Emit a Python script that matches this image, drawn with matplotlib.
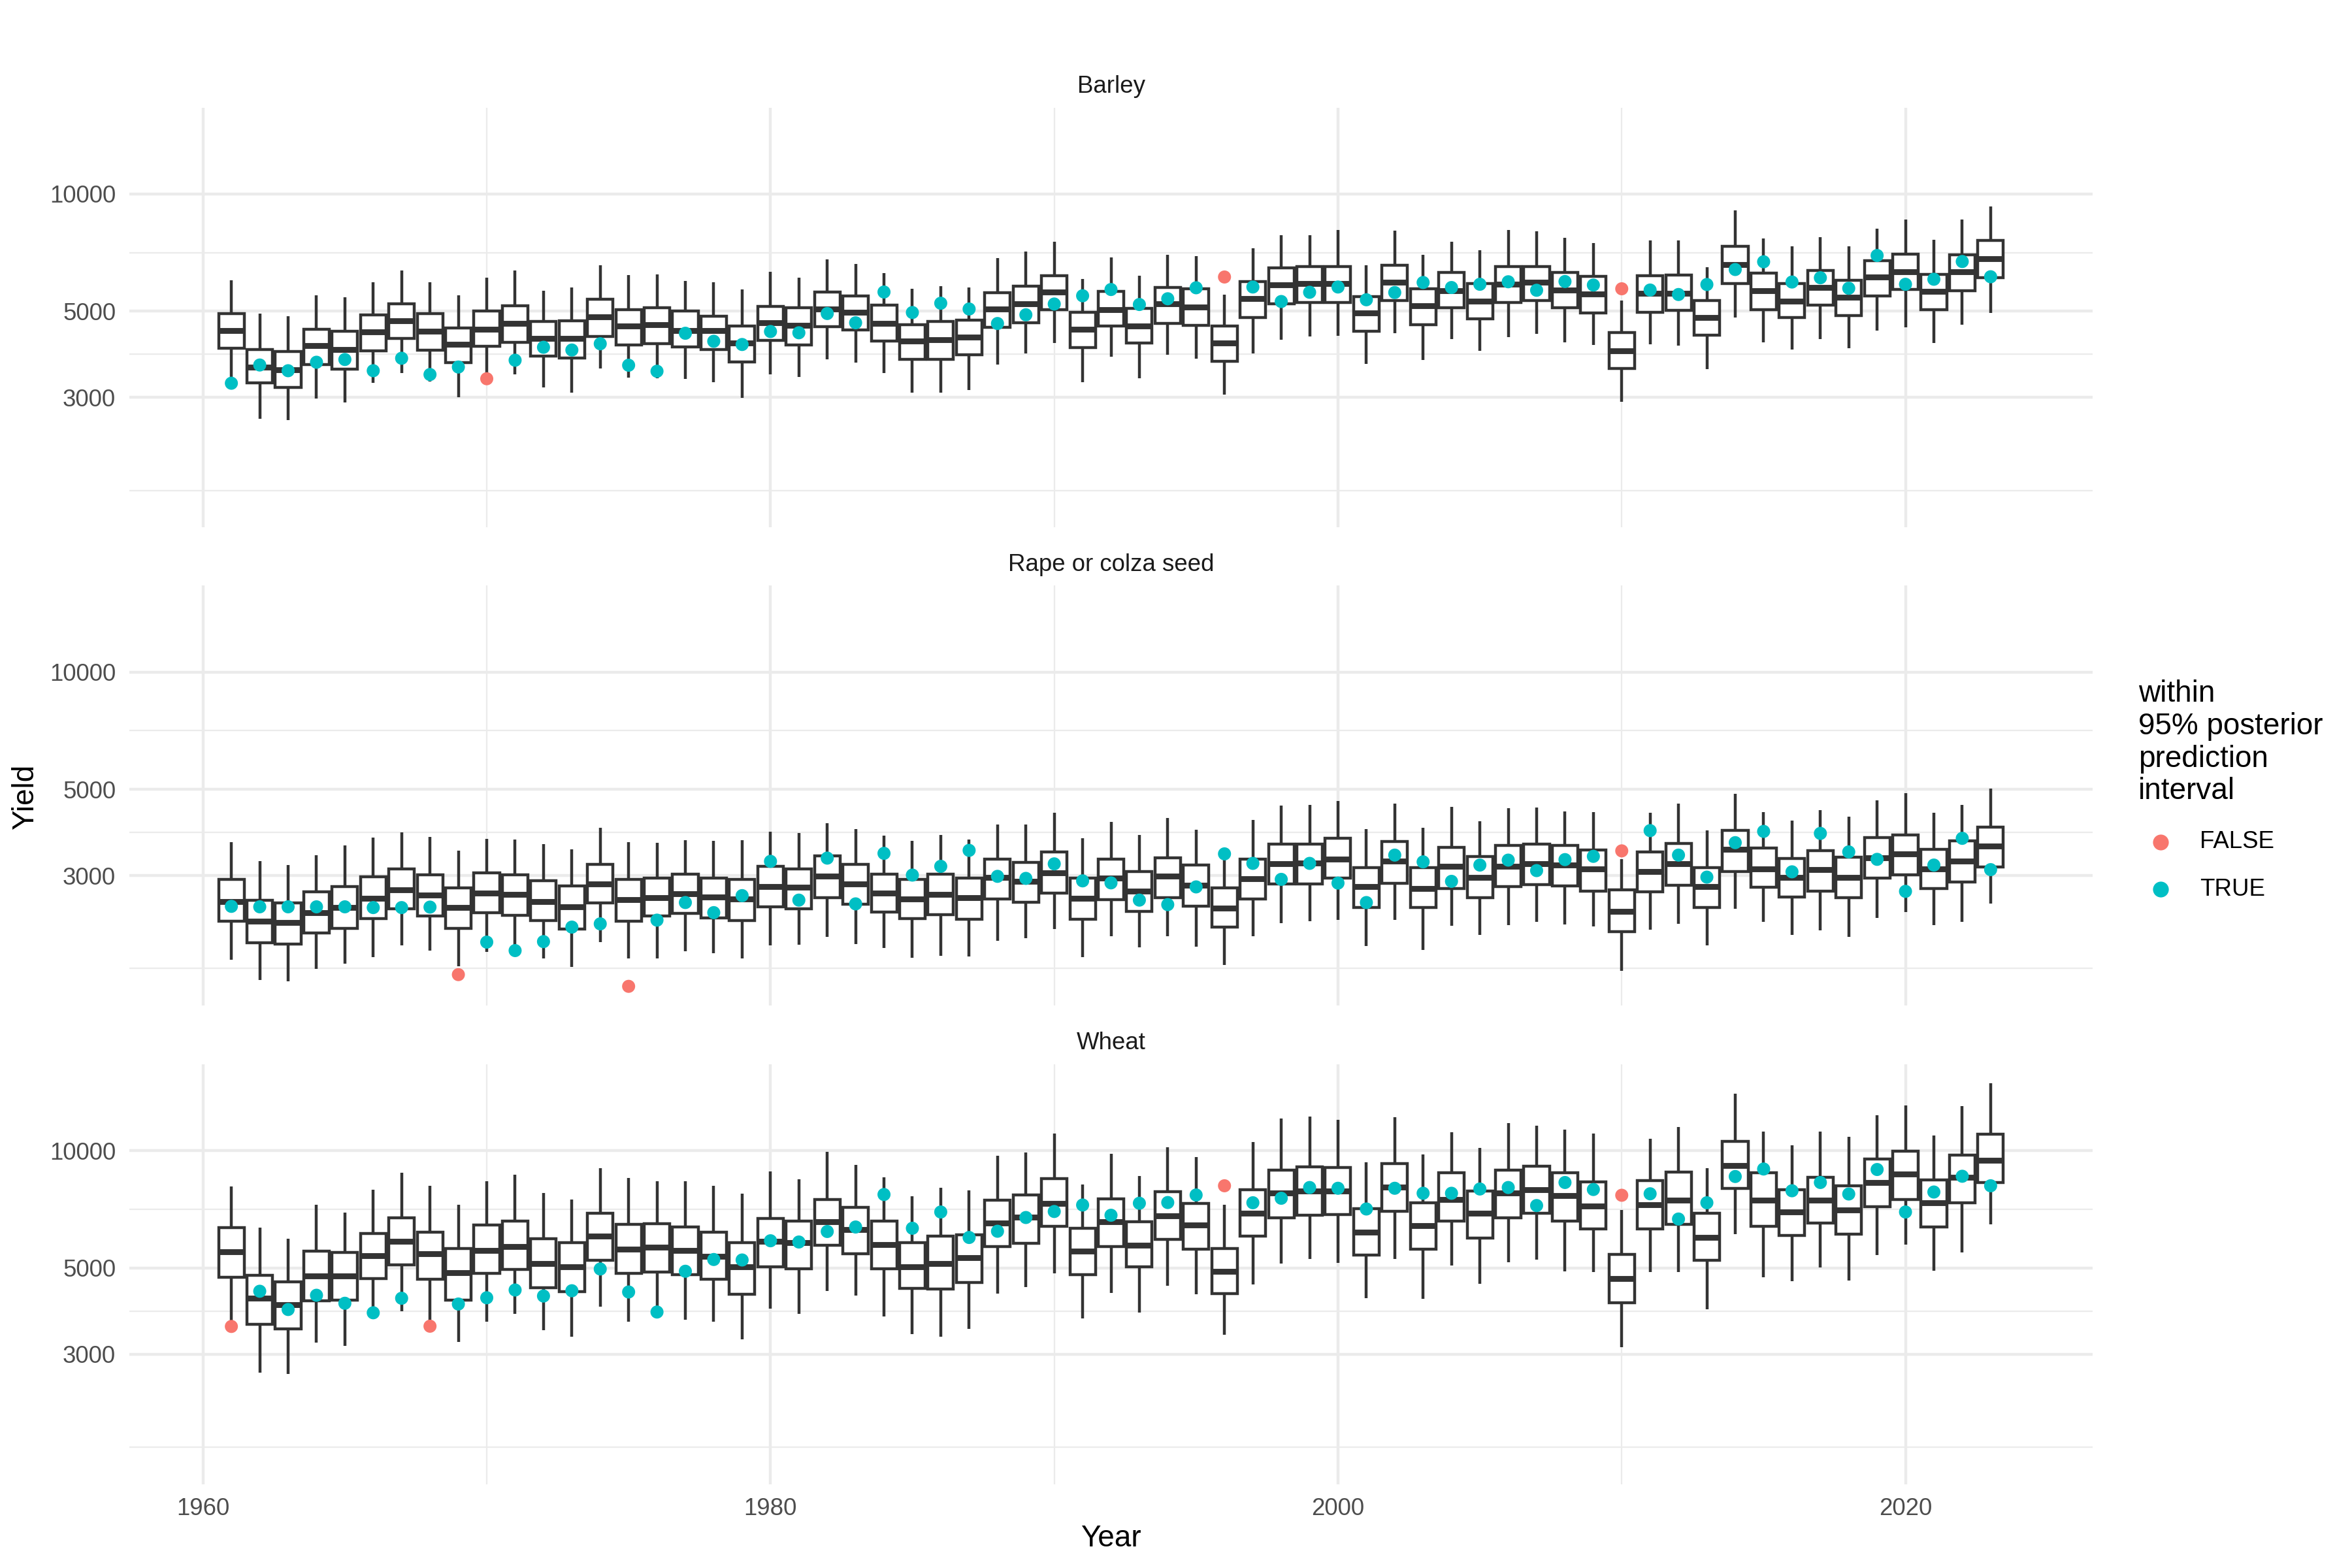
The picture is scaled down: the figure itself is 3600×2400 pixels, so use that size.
import numpy as np
import matplotlib
matplotlib.use('Agg')
import matplotlib.pyplot as plt
from matplotlib.lines import Line2D
from matplotlib.ticker import FixedLocator, FixedFormatter, NullFormatter

# posterior predictive boxes per year
years = list(range(1961, 2024))

barley_hi = [6012, 4931, 4844, 5485, 5429, 5941, 6369, 5933, 5502, 6102,
             6369, 5641, 5760, 6551, 6193, 6220, 5986, 5924, 5683, 6313,
             6102, 6797, 6599, 6275, 5708, 5794, 5742, 6838, 7127, 7550,
             6039, 6879, 6166, 6971, 6919, 5518, 7244, 7846, 7834, 8093,
             6561, 8046, 6991, 7550, 7180, 8081, 8022, 7730, 7473, 5318,
             7584, 7606, 6493, 9083, 7697, 7330, 7753, 7341, 8141, 8612,
             7640, 8612, 9301]
barley_q3 = [4931, 3979, 3938, 4499, 4433, 4887, 5224, 4924, 4519, 4997,
             5163, 4703, 4724, 5357, 5042, 5102, 4997, 4851, 4573, 5148,
             5102, 5591, 5477, 5186, 4620, 4703, 4745, 5583, 5794, 6166,
             4960, 5616, 5087, 5751, 5708, 4586, 5959, 6464, 6512, 6512,
             5453, 6561, 5708, 6285, 5897, 6512, 6512, 6294, 6138, 4400,
             6166, 6184, 5334, 7341, 6275, 5897, 6350, 6012, 6737, 7012,
             6211, 6971, 7584]
barley_med = [4453, 3593, 3541, 4074, 3985, 4420, 4724, 4433, 4105, 4499,
              4655, 4259, 4259, 4830, 4586, 4620, 4453, 4453, 4135, 4668,
              4600, 5072, 4975, 4655, 4197, 4228, 4291, 5064, 5216, 5600,
              4486, 5049, 4586, 5224, 5125, 4135, 5381, 5836, 5897, 5880,
              4938, 5941, 5163, 5641, 5294, 5854, 5924, 5666, 5542, 3956,
              5558, 5558, 4808, 6590, 5641, 5294, 5751, 5421, 6120, 6322,
              5616, 6303, 6807]
barley_q1 = [4021, 3274, 3179, 3641, 3551, 3956, 4259, 3973, 3684, 4062,
             4160, 3829, 3784, 4310, 4086, 4123, 4044, 3979, 3701, 4209,
             4086, 4559, 4472, 4197, 3767, 3767, 3857, 4552, 4675, 5042,
             4038, 4586, 4135, 4655, 4600, 3712, 4816, 5216, 5263, 5263,
             4433, 5318, 4607, 5102, 4780, 5255, 5318, 5102, 4938, 3567,
             4975, 5027, 4336, 5880, 5042, 4808, 5186, 4865, 5477, 5683,
             5042, 5641, 6093]
barley_lo = [3313, 2641, 2626, 2978, 2913, 3273, 3473, 3298, 3000, 3410,
             3437, 3179, 3085, 3556, 3377, 3362, 3347, 3288, 2996, 3437,
             3387, 3756, 3684, 3463, 3085, 3085, 3131, 3646, 3886, 4135,
             3278, 3812, 3362, 3857, 3773, 3054, 3897, 4215, 4310, 4323,
             3657, 4387, 3740, 4246, 3956, 4291, 4368, 4160, 4086, 2930,
             4105, 4074, 3551, 4808, 4154, 3985, 4240, 4015, 4453, 4552,
             4135, 4613, 4938]
barley_obs = [3264, 3636, 3515, 3696, 3756, 3515, 3784, 3437, 3593, 3352,
              3740, 4038, 3973, 4123, 3631, 3504, 4387, 4184, 4105, 4433,
              4400, 4931, 4668, 5600, 4960, 5240, 5064, 4648, 4894, 5216,
              5477, 5683, 5201, 5381, 5742, 6120, 5768, 5294, 5591, 5768,
              5349, 5583, 5924, 5751, 5862, 5950, 5658, 5959, 5836, 5708,
              5666, 5518, 5854, 6397, 6697, 5941, 6093, 5725, 6950, 5862,
              6039, 6707, 6129]
barley_outside = [1970, 1996, 2010]

rape_hi = [3662, 3273, 3193, 3387, 3583, 3756, 3869, 3773, 3473, 3728,
           3712, 3609, 3504, 3985, 3662, 3636, 3701, 3684, 3701, 3897,
           3857, 4086, 3944, 3795, 3690, 3812, 3718, 4056, 4056, 4355,
           3740, 4129, 3812, 4221, 3938, 3288, 4178, 4533, 4552, 4668,
           3956, 4600, 3985, 4506, 4135, 4466, 4486, 4387, 4368, 3313,
           4355, 4600, 3915, 4865, 4368, 4154, 4413, 4259, 4682, 4880,
           4355, 4566, 5027]
rape_q3 = [2939, 2588, 2550, 2721, 2806, 2978, 3122, 3009, 2786, 3054,
           3009, 2913, 2823, 3207, 2934, 2956, 3031, 2956, 2930, 3169,
           3122, 3372, 3202, 3031, 2934, 3031, 2956, 3313, 3249, 3447,
           2956, 3303, 3068, 3327, 3193, 2794, 3313, 3609, 3609, 3740,
           3146, 3673, 3146, 3541, 3362, 3583, 3609, 3593, 3489, 2753,
           3447, 3631, 3146, 3926, 3525, 3322, 3478, 3347, 3756, 3812,
           3504, 3684, 3997]
rape_med = [2576, 2295, 2271, 2410, 2483, 2626, 2753, 2673, 2483, 2701,
            2681, 2576, 2494, 2857, 2603, 2633, 2693, 2641, 2614, 2806,
            2802, 2987, 2857, 2705, 2614, 2685, 2633, 2964, 2900, 3054,
            2622, 2951, 2741, 2987, 2836, 2471, 2943, 3216, 3225, 3313,
            2815, 3264, 2782, 3169, 2964, 3169, 3216, 3193, 3122, 2428,
            3068, 3216, 2815, 3504, 3122, 2964, 3108, 2964, 3327, 3412,
            3122, 3264, 3567]
rape_q1 = [2288, 2018, 2003, 2134, 2199, 2330, 2464, 2365, 2196, 2410,
           2368, 2298, 2189, 2550, 2295, 2365, 2399, 2333, 2298, 2490,
           2464, 2637, 2531, 2417, 2323, 2385, 2316, 2614, 2565, 2705,
           2316, 2607, 2428, 2633, 2501, 2212, 2614, 2857, 2857, 2951,
           2483, 2870, 2483, 2782, 2633, 2806, 2848, 2827, 2741, 2156,
           2721, 2836, 2483, 3077, 2802, 2641, 2741, 2633, 2956, 3009,
           2774, 2891, 3160]
rape_lo = [1820, 1616, 1604, 1728, 1780, 1855, 1982, 1925, 1754, 1908,
           1915, 1841, 1746, 2027, 1841, 1841, 1916, 1894, 1841, 1988,
           1994, 2085, 2003, 1953, 1846, 1869, 1860, 2039, 2070, 2189,
           1852, 2094, 1959, 2094, 1968, 1767, 2094, 2261, 2295, 2305,
           1979, 2305, 1930, 2228, 2116, 2238, 2278, 2248, 2222, 1710,
           2182, 2255, 1988, 2464, 2278, 2110, 2172, 2085, 2333, 2421,
           2238, 2281, 2538]
rape_obs = [2501, 2494, 2494, 2494, 2494, 2483, 2483, 2490, 1670, 2024,
            1925, 2030, 2212, 2255, 1558, 2305, 2558, 2410, 2665, 3264,
            2595, 3327, 2538, 3422, 3009, 3169, 3483, 2987, 2951, 3216,
            2908, 2874, 2595, 2527, 2806, 3412, 3225, 2934, 3225, 2870,
            2558, 3387, 3254, 2900, 3193, 3288, 3090, 3298, 3362, 3473,
            3915, 3387, 2973, 3646, 3897, 3068, 3851, 3452, 3303, 2733,
            3193, 3740, 3108]
rape_outside = [1969, 1975, 2010]

wheat_hi = [8093, 6341, 5941, 7276, 6930, 7951, 8779, 8141, 7254, 8337,
            8676, 7788, 7495, 9029, 8498, 8362, 8349, 8117, 7753, 8858,
            8460, 9941, 9192, 8561, 7640, 8034, 7916, 9694, 9912, 11057,
            8202, 9838, 8612, 10209, 9620, 7276, 10532, 12084, 12246, 12013,
            9342, 12192, 9780, 11175, 10179, 11767, 11611, 11321, 11074, 7044,
            10752, 11508, 9016, 14010, 11209, 10346, 11192, 10848, 12338, 13091,
            10944, 13032, 14900]
wheat_q3 = [6341, 4787, 4613, 5518, 5469, 6138, 6737, 6184, 5616, 6435,
            6590, 5950, 5811, 6909, 6464, 6483, 6369, 6184, 5811, 6707,
            6599, 7495, 7159, 6590, 5802, 6030, 6084, 7462, 7697, 8473,
            6322, 7528, 6570, 7858, 7330, 5616, 7951, 8924, 9083, 9056,
            7096, 9260, 7352, 8779, 7892, 8911, 9110, 8779, 8313, 5413,
            8374, 8818, 6909, 10578, 8779, 7951, 8536, 8129, 9523, 9970,
            8411, 9737, 11009]
wheat_med = [5510, 4178, 4027, 4759, 4759, 5373, 5845, 5437, 4865, 5534,
             5683, 5125, 5042, 6030, 5591, 5658, 5534, 5349, 5042, 5845,
             5811, 6561, 6275, 5742, 5042, 5140, 5310, 6512, 6757, 7330,
             5518, 6561, 5725, 6807, 6435, 4902, 6909, 7776, 7892, 7892,
             6166, 8069, 6416, 7495, 6919, 7799, 7927, 7662, 7222, 4703,
             7276, 7462, 5977, 9151, 7462, 6960, 7462, 7033, 8275, 8714,
             7362, 8536, 9468]
wheat_q1 = [4724, 3577, 3489, 4117, 4135, 4703, 5087, 4682, 4135, 4837,
            4953, 4446, 4349, 5232, 4837, 4880, 4808, 4668, 4285, 5042,
            4968, 5725, 5437, 4982, 4433, 4420, 4586, 5683, 5785, 6397,
            4808, 5683, 5027, 5915, 5591, 4291, 6039, 6727, 6838, 6858,
            5397, 6991, 5591, 6589, 5959, 6727, 6909, 6590, 6294, 4068,
            6303, 6464, 5232, 8010, 6397, 6048, 6512, 6111, 7190, 7495,
            6369, 7352, 8275]
wheat_lo = [3657, 2693, 2673, 3216, 3155, 3795, 3863, 3657, 3225, 3641,
            3812, 3458, 3332, 3973, 3631, 3800, 3673, 3631, 3273, 3932,
            3806, 4368, 4253, 3756, 3382, 3322, 3483, 4291, 4466, 4844,
            3701, 4304, 3840, 4499, 4272, 3372, 4533, 5125, 5271, 5155,
            4178, 5271, 4160, 5064, 4545, 5178, 5255, 4894, 4880, 3122,
            4880, 4880, 3909, 6111, 4738, 4620, 5012, 4634, 5397, 5742,
            4916, 5477, 6464]
wheat_obs = [3536, 4355, 3909, 4253, 4056, 3834, 4178, 3541, 4038, 4190,
             4387, 4234, 4368, 4968, 4336, 3851, 4902, 5255, 5240, 5871,
             5828, 6202, 6369, 7719, 6322, 6960, 5986, 6211, 6737, 6981,
             7254, 6828, 7330, 7362, 7697, 8129, 7352, 7550, 8046, 8010,
             7085, 8010, 7776, 7776, 7975, 8046, 7232, 8288, 7951, 7685,
             7753, 6677, 7352, 8587, 8976, 7892, 8288, 7742, 8950, 6960,
             7834, 8600, 8129]
wheat_outside = [1961, 1968, 1996, 2010]

crops = ['Barley', 'Rape or colza seed', 'Wheat']
y_breaks = [1000, 3000, 5000, 10000, 30000]

INK = '#333333'
COL_FALSE = '#F8766D'
COL_TRUE = '#00BFC4'
GRID = '#EBEBEB'

plt.rcParams['font.family'] = ['Liberation Sans', 'DejaVu Sans']

panels = {
    'Barley': (barley_lo, barley_q1, barley_med, barley_q3, barley_hi, barley_obs, barley_outside),
    'Rape or colza seed': (rape_lo, rape_q1, rape_med, rape_q3, rape_hi, rape_obs, rape_outside),
    'Wheat': (wheat_lo, wheat_q1, wheat_med, wheat_q3, wheat_hi, wheat_obs, wheat_outside),
}

# shared (fixed) scales like facet_wrap default, with 5% expansion
all_lo = min(min(p[0] + p[5]) for p in panels.values())
all_hi = max(max(p[4] + p[5]) for p in panels.values())
l0, l1 = np.log10(all_lo), np.log10(all_hi)
pad = 0.05 * (l1 - l0)
ylim = (10 ** (l0 - pad), 10 ** (l1 + pad))
x0, x1 = years[0] - 0.45, years[-1] + 0.45
xpad = 0.05 * (x1 - x0)
xlim = (x0 - xpad, x1 + xpad)

yb = np.array(y_breaks, dtype=float)
y_minor = np.sqrt(yb[:-1] * yb[1:])

W, H = 3600, 2400
fig = plt.figure(figsize=(12, 8), dpi=300)
left_px, right_px = 198, 3203
panel_h = 642.5
panel_tops = [164.6, 896.4, 1629.0]

for i, name in enumerate(crops):
    lo, q1, med, q3, hi, obs, outside = panels[name]
    ax = fig.add_axes([left_px / W, 1 - (panel_tops[i] + panel_h) / H,
                       (right_px - left_px) / W, panel_h / H])
    ax.set_yscale('log')
    stats = [dict(med=m, q1=a, q3=b, whislo=l, whishi=h, fliers=[])
             for l, a, m, b, h in zip(lo, q1, med, q3, hi)]
    ax.bxp(stats, positions=years, widths=0.9, showcaps=False, showfliers=False,
           patch_artist=True, manage_ticks=False,
           boxprops=dict(facecolor='white', edgecolor=INK, linewidth=1.07),
           whiskerprops=dict(color=INK, linewidth=1.07, solid_capstyle='butt'),
           medianprops=dict(color=INK, linewidth=2.13, solid_capstyle='butt'))
    cols = [COL_FALSE if y in outside else COL_TRUE for y in years]
    ax.scatter(years, obs, s=4.8 ** 2, c=cols, linewidths=0, zorder=4)

    ax.set_xlim(*xlim)
    ax.set_ylim(*ylim)
    ax.xaxis.set_major_locator(FixedLocator([1960, 1980, 2000, 2020]))
    ax.xaxis.set_minor_locator(FixedLocator([1970, 1990, 2010]))
    ax.yaxis.set_major_locator(FixedLocator(y_breaks))
    ax.yaxis.set_major_formatter(FixedFormatter([str(b) for b in y_breaks]))
    ax.yaxis.set_minor_locator(FixedLocator(y_minor))
    ax.yaxis.set_minor_formatter(NullFormatter())
    ax.grid(which='major', color=GRID, linewidth=1.07)
    ax.grid(which='minor', color=GRID, linewidth=0.53)
    ax.set_axisbelow(True)
    for s in ax.spines.values():
        s.set_visible(False)
    ax.tick_params(which='both', length=0, labelsize=8.8, labelcolor='#4D4D4D', pad=5)
    if i < 2:
        ax.tick_params(labelbottom=False)
    ax.text(0.5, 1 + 32 / panel_h, name, transform=ax.transAxes, ha='center',
            va='center', fontsize=8.8, color='#1A1A1A')

fig.text((left_px + right_px) / 2 / W, 1 - 2355 / H, 'Year', ha='center', va='center', fontsize=11)
fig.text(39 / W, 1 - 1220 / H, 'Yield', ha='center', va='center', rotation=90, fontsize=11)

# legend
fig.text(3273 / W, 1 - 1040 / H, 'within\n95% posterior\nprediction\ninterval',
         ha='left', va='top', fontsize=11, linespacing=1.17)
for lab, col, ypx in [('FALSE', COL_FALSE, 1289), ('TRUE', COL_TRUE, 1361)]:
    fig.add_artist(Line2D([3307 / W], [1 - ypx / H], marker='o', markersize=4.8,
                          color=col, linestyle='none', transform=fig.transFigure))
    fig.text(3367 / W, 1 - ypx / H, lab, ha='left', va='center', fontsize=8.8)

fig.savefig('out.png', dpi=300)
